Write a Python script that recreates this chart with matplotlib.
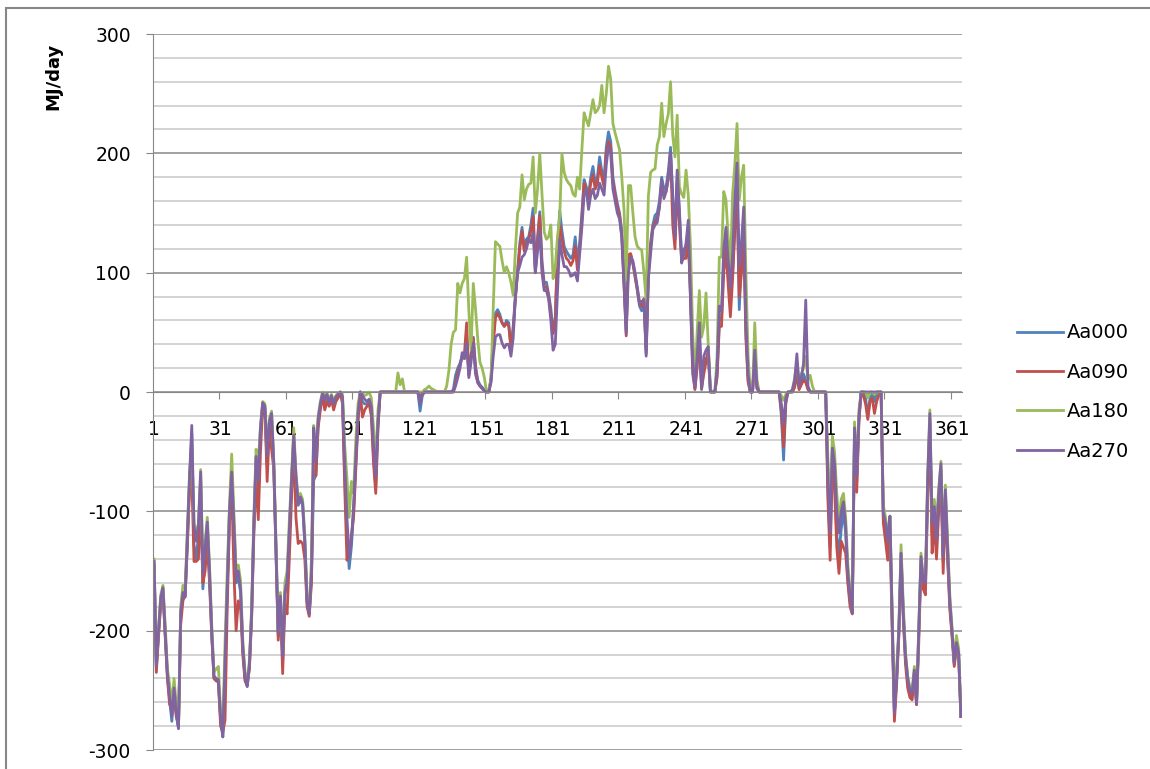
import numpy as np
import matplotlib
import matplotlib.pyplot as plt
from matplotlib.patches import Rectangle

matplotlib.use("Agg")
plt.rcParams["axes.unicode_minus"] = False

# ── Daily energy balance (MJ/day) for four orientations ──────────────────────
series_names = ["Aa000", "Aa090", "Aa180", "Aa270"]
series_colors = ["#4F81BD", "#C0504D", "#9BBB59", "#8064A2"]

aa000 = [
    -145, -232, -202, -175, -166, -203, -238, -258, -276, -250,
    -270, -282, -185, -168, -172, -125, -75, -35, -128, -140,
    -120, -72, -165, -140, -112, -155, -202, -240, -242, -243,
    -275, -289, -232, -165, -102, -68, -115, -160, -155, -168,
    -215, -240, -247, -230, -186, -112, -56, -78, -32, -10,
    -14, -62, -26, -20, -62, -132, -205, -175, -225, -170,
    -160, -118, -76, -38, -75, -95, -90, -95, -128, -176,
    -186, -155, -74, -70, -28, -12, -2, -8, -3, -10,
    -4, -12, -6, -2, 0, -6, -70, -120, -148, -130,
    -100, -60, -20, 0, -8, -10, -10, -8, -15, -55,
    -80, -28, 0, 0, 0, 0, 0, 0, 0, 0,
    0, 0, 0, 0, 0, 0, 0, 0, 0, 0,
    -16, -3, 0, 0, 0, 0, 0, 0, 0, 0,
    0, 0, 0, 0, 0, 2, 14, 20, 24, 30,
    28, 45, 15, 32, 46, 22, 10, 6, 4, 2,
    0, 0, 12, 45, 66, 69, 65, 58, 55, 60,
    58, 35, 55, 80, 102, 125, 138, 120, 128, 130,
    140, 154, 102, 130, 151, 110, 91, 92, 82, 70,
    50, 63, 120, 152, 135, 122, 118, 115, 112, 115,
    130, 108, 125, 150, 178, 172, 165, 180, 189, 175,
    180, 197, 185, 178, 205, 218, 210, 180, 168, 158,
    150, 135, 95, 52, 112, 115, 108, 98, 85, 72,
    68, 78, 35, 100, 125, 140, 148, 150, 160, 180,
    170, 172, 185, 205, 160, 128, 180, 150, 115, 120,
    118, 138, 75, 15, 3, 25, 40, 2, 20, 28,
    30, 0, 0, 0, 15, 60, 62, 110, 130, 100,
    80, 100, 140, 170, 69, 110, 140, 50, 10, 0,
    0, 30, 3, 0, 0, 0, 0, 0, 0, 0,
    0, 0, 0, -20, -57, -10, 0, 0, 0, 5,
    20, 3, 8, 15, 10, 3, 0, 0, 0, 0,
    0, 0, 0, 0, -80, -130, -50, -70, -120, -135,
    -115, -100, -118, -158, -175, -183, -35, -75, -22, 0,
    0, -5, -21, -5, -2, -8, 0, 0, 0, -105,
    -115, -130, -106, -192, -270, -240, -202, -135, -185, -223,
    -242, -252, -254, -235, -262, -202, -140, -162, -165, -80,
    -22, -118, -100, -128, -90, -65, -142, -88, -135, -178,
    -202, -228, -212, -220, -272,
]

aa090 = [
    -145, -235, -205, -178, -168, -205, -240, -262, -265, -255,
    -272, -280, -195, -175, -170, -130, -80, -70, -142, -142,
    -140, -90, -160, -150, -125, -160, -205, -240, -242, -243,
    -280, -285, -275, -180, -110, -80, -150, -200, -175, -180,
    -220, -242, -246, -232, -190, -120, -70, -107, -50, -12,
    -15, -75, -30, -48, -65, -135, -208, -180, -236, -178,
    -186, -140, -90, -45, -105, -127, -125, -127, -140, -180,
    -188, -160, -45, -70, -30, -15, -3, -15, -8, -12,
    -6, -15, -8, -5, -1, -10, -80, -141, -135, -120,
    -105, -65, -25, 0, -21, -15, -12, -10, -20, -60,
    -85, -30, 0, 0, 0, 0, 0, 0, 0, 0,
    0, 0, 0, 0, 0, 0, 0, 0, 0, 0,
    -4, -1, 0, 0, 0, 0, 0, 0, 0, 0,
    0, 0, 0, 0, 0, 0, 8, 16, 22, 30,
    32, 58, 14, 30, 45, 20, 8, 5, 3, 1,
    0, 0, 10, 40, 62, 66, 62, 58, 55, 58,
    55, 38, 52, 78, 100, 120, 135, 118, 125, 128,
    135, 147, 100, 125, 148, 105, 88, 88, 80, 65,
    49, 60, 115, 140, 128, 118, 112, 110, 106, 110,
    122, 102, 120, 145, 175, 168, 160, 175, 182, 170,
    175, 190, 180, 172, 200, 210, 205, 176, 165, 155,
    148, 130, 90, 47, 115, 116, 108, 96, 86, 74,
    72, 78, 32, 98, 122, 138, 142, 146, 155, 175,
    165, 168, 180, 200, 140, 120, 175, 140, 110, 112,
    112, 130, 80, 20, 2, 20, 50, 3, 15, 25,
    35, 0, 0, 0, 12, 55, 55, 100, 120, 90,
    63, 95, 135, 170, 80, 100, 130, 45, 8, 0,
    0, 28, 3, 0, 0, 0, 0, 0, 0, 0,
    0, 0, 0, -15, -46, -8, 0, 0, 0, 4,
    15, 2, 6, 10, 8, 2, 0, 0, 0, 0,
    0, 0, 0, 0, -90, -141, -60, -80, -130, -152,
    -125, -130, -135, -160, -180, -186, -40, -84, -25, 0,
    -3, -10, -23, -8, -5, -18, -8, -2, 0, -110,
    -125, -141, -115, -200, -276, -245, -205, -140, -190, -228,
    -248, -256, -258, -238, -262, -210, -145, -165, -170, -90,
    -25, -135, -110, -140, -100, -72, -152, -95, -140, -182,
    -205, -230, -215, -222, -272,
]

aa180 = [
    -140, -225, -198, -170, -162, -195, -232, -245, -262, -240,
    -262, -280, -180, -162, -165, -115, -68, -45, -110, -118,
    -110, -65, -148, -126, -105, -145, -195, -235, -232, -230,
    -268, -280, -210, -150, -95, -52, -100, -150, -145, -158,
    -208, -234, -244, -225, -180, -105, -48, -60, -28, -8,
    -10, -50, -22, -16, -58, -125, -200, -168, -218, -160,
    -150, -108, -70, -30, -68, -90, -85, -90, -120, -170,
    -184, -140, -28, -52, -20, -8, 0, -4, -1, -6,
    -2, -8, -3, -1, 0, -2, -45, -72, -105, -75,
    -85, -40, -10, 0, -1, -3, -2, 0, -5, -30,
    -60, -15, 0, 0, 0, 0, 0, 0, 0, 0,
    16, 6, 11, 0, 0, 0, 0, 0, 0, 0,
    0, 0, 2, 3, 5, 3, 2, 1, 0, 0,
    0, 0, 5, 18, 40, 50, 52, 91, 83, 91,
    95, 113, 68, 35, 91, 70, 45, 25, 20, 12,
    0, 2, 10, 70, 126, 124, 122, 110, 100, 105,
    100, 92, 81, 119, 150, 155, 182, 161, 170, 174,
    175, 197, 150, 170, 200, 166, 134, 128, 130, 140,
    95, 105, 130, 147, 200, 184, 178, 175, 173, 166,
    164, 180, 170, 203, 234, 228, 223, 234, 245, 234,
    236, 240, 257, 234, 250, 273, 262, 225, 217, 210,
    203, 180, 153, 94, 173, 173, 150, 130, 122, 120,
    119, 100, 77, 164, 184, 186, 187, 207, 214, 242,
    214, 225, 233, 260, 215, 197, 232, 172, 166, 163,
    186, 165, 122, 49, 10, 50, 85, 46, 55, 83,
    40, 2, 0, 0, 30, 113, 113, 168, 161, 130,
    100, 166, 190, 225, 161, 180, 190, 100, 30, 0,
    0, 58, 10, 0, 0, 0, 0, 0, 0, 0,
    0, 0, 0, -3, -7, -2, 0, 0, 2, 12,
    25, 8, 15, 20, 30, 10, 14, 5, 0, 0,
    0, 0, 0, 0, -55, -100, -37, -50, -85, -110,
    -90, -85, -105, -145, -165, -183, -25, -65, -15, 0,
    0, 0, -5, 0, 0, -2, 0, 0, 0, -95,
    -105, -120, -104, -185, -265, -232, -198, -128, -178, -218,
    -238, -248, -250, -230, -258, -198, -135, -155, -158, -70,
    -15, -105, -90, -110, -80, -58, -128, -78, -125, -170,
    -198, -225, -204, -215, -270,
]

aa270 = [
    -142, -230, -200, -172, -164, -200, -236, -255, -272, -248,
    -268, -282, -185, -168, -171, -120, -70, -28, -112, -125,
    -112, -67, -152, -130, -109, -150, -200, -238, -240, -241,
    -272, -289, -225, -160, -100, -67, -110, -156, -150, -165,
    -212, -238, -246, -228, -185, -110, -54, -74, -30, -9,
    -12, -54, -25, -18, -60, -130, -202, -171, -222, -168,
    -158, -115, -74, -36, -70, -93, -88, -93, -125, -175,
    -186, -150, -30, -58, -23, -10, -1, -6, -2, -9,
    -3, -10, -4, -2, 0, -4, -60, -105, -138, -125,
    -95, -55, -18, 0, -3, -6, -8, -6, -12, -45,
    -71, -25, 0, 0, 0, 0, 0, 0, 0, 0,
    0, 0, 0, 0, 0, 0, 0, 0, 0, 0,
    -10, -2, 0, 0, 0, 0, 0, 0, 0, 0,
    0, 0, 0, 0, 0, 0, 5, 12, 20, 33,
    28, 41, 12, 25, 41, 15, 8, 5, 3, 1,
    0, 0, 8, 30, 46, 48, 48, 41, 37, 40,
    40, 30, 45, 80, 100, 106, 113, 115, 120, 128,
    125, 133, 100, 118, 135, 100, 85, 85, 78, 60,
    35, 40, 85, 128, 115, 105, 105, 102, 97, 98,
    100, 93, 115, 138, 165, 170, 153, 165, 170, 162,
    165, 175, 170, 165, 190, 206, 200, 170, 160, 150,
    145, 130, 91, 49, 100, 113, 110, 100, 88, 75,
    76, 77, 30, 95, 115, 136, 140, 142, 155, 178,
    162, 168, 178, 201, 165, 130, 186, 153, 108, 115,
    125, 144, 83, 27, 4, 30, 58, 4, 30, 35,
    38, 0, 0, 0, 20, 72, 68, 120, 138, 110,
    88, 115, 160, 192, 105, 125, 155, 60, 15, 0,
    0, 35, 5, 0, 0, 0, 0, 0, 0, 0,
    0, 0, 0, -10, -27, -5, 0, 0, 2, 10,
    32, 5, 12, 24, 77, 5, 0, 0, 0, 0,
    0, 0, 0, 0, -70, -118, -47, -60, -100, -118,
    -100, -92, -112, -152, -170, -185, -30, -70, -20, 0,
    0, 0, 0, 0, 0, 0, 0, 0, 0, -101,
    -110, -124, -104, -190, -269, -240, -200, -135, -185, -221,
    -240, -250, -252, -233, -261, -200, -138, -158, -160, -74,
    -18, -110, -96, -124, -85, -60, -138, -82, -130, -175,
    -200, -227, -210, -219, -272,
]

label_days = list(range(1, 366, 30))
y_major = list(range(-300, 301, 100))
y_minor = list(range(-300, 301, 20))

# ── Figure ───────────────────────────────────────────────────────────────────
W, H = 1150, 769
fig = plt.figure(figsize=(W / 100, H / 100), dpi=100)
ax = fig.add_axes([153 / W, 1 - 750 / H, (962 - 153) / W, (750 - 34) / H])

for name, color, vals in zip(series_names, series_colors, [aa000, aa090, aa180, aa270]):
    days = np.arange(1, len(vals) + 1)
    ax.plot(days, vals, color=color, linewidth=2.0, label=name, solid_joinstyle="round")

ax.set_xlim(0.5, 365.5)
ax.set_ylim(-300, 300)

# y axis: major + minor gridlines
ax.set_yticks(y_major)
ax.set_yticks(y_minor, minor=True)
ax.yaxis.grid(True, which="major", color="#878787", linewidth=1.1)
ax.yaxis.grid(True, which="minor", color="#c8c8c8", linewidth=1.1)
ax.tick_params(axis="y", which="major", length=5, color="#878787", labelsize=13.5, pad=11)
ax.tick_params(axis="y", which="minor", length=0)

# x axis crosses at zero
ax.spines["bottom"].set_position(("data", 0))
ax.spines["bottom"].set_color("#878787")
ax.spines["left"].set_color("#878787")
ax.spines["top"].set_visible(False)
ax.spines["right"].set_visible(False)
ax.set_xticks(np.arange(30.5, 365, 30))
ax.set_xticklabels([])
ax.set_xticks(label_days, minor=True)
ax.set_xticklabels([str(d) for d in label_days], minor=True)
ax.tick_params(axis="x", which="major", length=5, color="#878787", direction="out")
ax.tick_params(axis="x", which="minor", length=0, labelsize=13.5, pad=20)
ax.set_axisbelow(True)

fig.text(53 / W, 1 - 76 / H, "MJ/day", rotation=90, fontsize=13,
         fontweight="bold", ha="center", va="center")

fig.legend(loc="center left", bbox_to_anchor=(999 / W, 1 - 392 / H),
           frameon=False, fontsize=14, handlelength=2.4, handletextpad=0.2,
           labelspacing=1.05)

# chart area outline
fig.patches.append(Rectangle((6 / W, -0.5), 2, 1.5 - 8 / H, transform=fig.transFigure,
                             fill=False, edgecolor="#878787", linewidth=1.5))

fig.savefig("out.png", dpi=100)
